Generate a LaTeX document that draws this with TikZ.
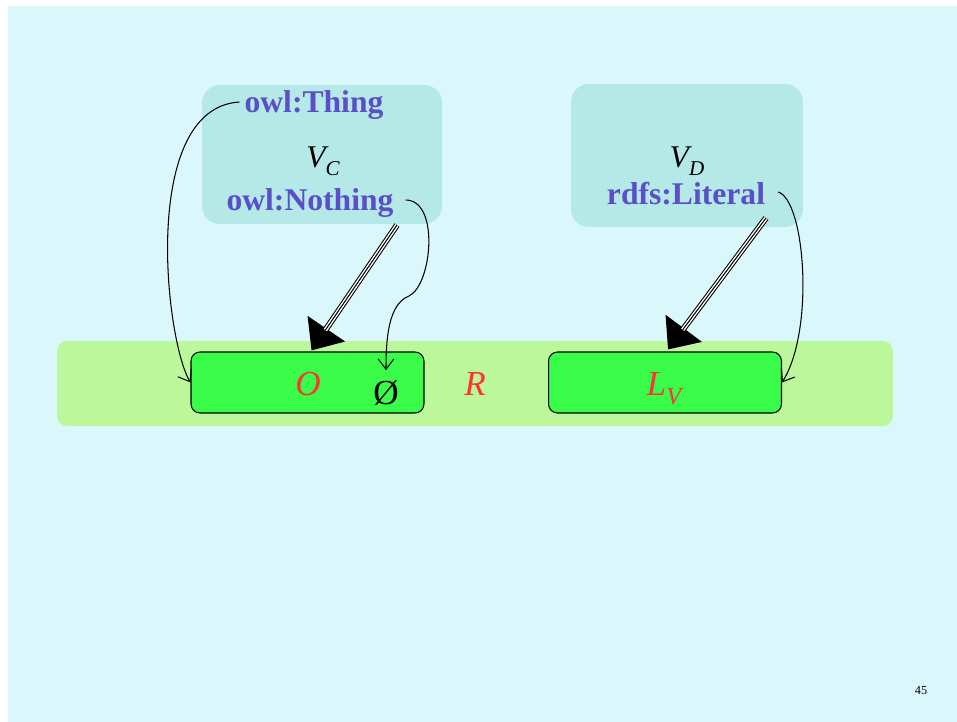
\documentclass[tikz,border=0pt]{standalone}
\usepackage{fontspec}
\setmainfont{Liberation Serif}
\usetikzlibrary{arrows.meta}

\definecolor{slidebg}{HTML}{DAF7FB}
\definecolor{vfill}{HTML}{B5E9E8}
\definecolor{bandfill}{HTML}{BDF79B}
\definecolor{setfill}{HTML}{38FC48}
\definecolor{owlblue}{HTML}{5B4FC9}
\definecolor{setred}{HTML}{FF3333}

\tikzset{
  vbox/.style={fill=vfill, rounded corners=0.36cm, minimum width=4.8cm, minimum height=2.78cm},
  setbox/.style={draw, fill=setfill, line width=0.6pt, rounded corners=0.18cm, minimum width=4.66cm, minimum height=1.22cm},
  owl/.style={text=owlblue, font=\fontsize{18}{20}\selectfont\bfseries, inner sep=1pt},
  sym/.style={text=setred, font=\fontsize{20}{22}\selectfont\itshape, inner sep=0pt, anchor=base},
  maps/.style={line width=0.6pt, -{Straight Barb[length=6pt,width=9pt]}},
  interp/.style={line width=3.4pt, -{Triangle[length=15pt,width=25pt]},
    postaction={draw=white, line width=2.2pt, shorten >=14pt, -},
    postaction={draw=black, line width=0.6pt, shorten >=14pt, -}}
}

\begin{document}
\begin{tikzpicture}[x=0.02cm, y=-0.02cm]
\useasboundingbox (0,0) rectangle (957,722);
\fill[slidebg] (8,6) rectangle (957,722);

% vocabularies
\node[vbox] (vc) at (322,154.5) {};
\node[vbox, minimum width=4.64cm, minimum height=2.86cm] (vd) at (687,155.5) {};
\node[owl] (thing) at (314,105) {owl:Thing};
\node[anchor=base, font=\fontsize{18}{20}\selectfont\itshape, inner sep=0pt] (vcl) at (323,168)
  {V\raisebox{-4.5pt}{\fontsize{12}{14}\selectfont C}};
\node[owl] (nothing) at (310,203) {owl:Nothing};
\node[anchor=base, font=\fontsize{18}{20}\selectfont\itshape, inner sep=0pt] (vdl) at (687,168)
  {V\raisebox{-4.5pt}{\fontsize{12}{14}\selectfont D}};
\node[owl] (literal) at (686,194) {rdfs:Literal};

% domain
\node[fill=bandfill, rounded corners=0.2cm, minimum width=16.72cm, minimum height=1.7cm] (band) at (475,383.5) {};
\node[setbox] (obox) at (307.5,382.5) {};
\node[setbox] (lbox) at (665,382.5) {};
\node[sym] (o) at (308,396) {O};
\node[font=\fontsize{20}{22}\selectfont, inner sep=0pt] (empty) at (386,393) {Ø};
\node[sym] (r) at (475,396) {R};
\node[sym] (lv) at (664,396) {L\raisebox{-5pt}{\fontsize{14}{16}\selectfont V}};
\node[font=\fontsize{7}{8}\selectfont] (page) at (921,691) {45};

\coordinate (vcfoot) at (397,225);
\coordinate (vdfoot) at (766,218);

\draw[interp] (vcfoot) -- ([xshift=0.08cm,yshift=0.02cm]obox.north);
\draw[interp] (vdfoot) -- ([xshift=0.06cm,yshift=0.04cm]lbox.north);

\draw[maps] ([xshift=-0.06cm,yshift=0.06cm]thing.west) .. controls (140,108) and (165,340) .. (obox.west);
\draw[maps] ([xshift=0.2cm,yshift=0.06cm]nothing.east) .. controls (440,200) and (432,285) .. (409,296)
  .. controls (388,304) and (386,340) .. ([yshift=0.2cm]empty.north);
\draw[maps] ([xshift=0.22cm,yshift=0.04cm]literal.east) .. controls (805,200) and (815,330) .. (lbox.east);
\end{tikzpicture}
\end{document}
